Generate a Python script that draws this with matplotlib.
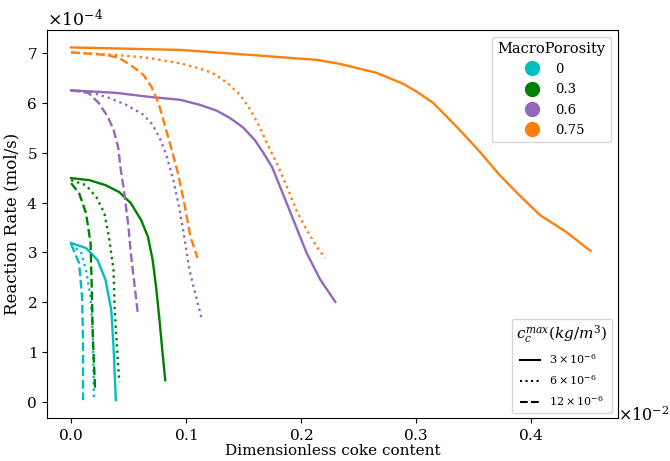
import numpy as np
import matplotlib
matplotlib.use("Agg")
import matplotlib.pyplot as plt
from matplotlib.lines import Line2D

plt.rcParams['font.family'] = 'DejaVu Serif'
plt.rcParams['mathtext.fontset'] = 'dejavuserif'

# x in units of 1e-2, y in units of 1e-4
porosity = ['0', '0.3', '0.6', '0.75']
colors = ['c', 'g', 'tab:purple', 'tab:orange']
cmax_labels = [r'$3\times10^{-6}$', r'$6\times10^{-6}$', r'$12\times10^{-6}$']
styles = ['-', ':', '--']

# porosity 0
x_0_s = [0, 0.013, 0.023, 0.030, 0.035, 0.037, 0.039]
y_0_s = [3.19, 3.09, 2.85, 2.45, 1.85, 1.10, 0.04]
x_0_d = [0, 0.009, 0.013, 0.017, 0.019, 0.020]
y_0_d = [3.17, 2.99, 2.65, 2.11, 1.30, 0.04]
x_0_l = [0, 0.007, 0.0096, 0.0104, 0.0104]
y_0_l = [3.17, 2.79, 2.11, 1.30, 0.04]

# porosity 0.3
x_3_s = [0, 0.016, 0.030, 0.042, 0.052, 0.061, 0.067, 0.071, 0.074, 0.077, 0.080, 0.082]
y_3_s = [4.49, 4.45, 4.35, 4.21, 3.99, 3.65, 3.31, 2.85, 2.31, 1.64, 0.90, 0.44]
x_3_d = [0, 0.013, 0.022, 0.029, 0.033, 0.037, 0.038, 0.040, 0.042]
y_3_d = [4.45, 4.35, 4.11, 3.79, 3.31, 2.65, 1.85, 1.10, 0.40]
x_3_l = [0, 0.007, 0.013, 0.017, 0.018, 0.019, 0.021]
y_3_l = [4.39, 4.19, 3.79, 3.19, 2.31, 1.30, 0.22]

# porosity 0.6
x_6_s = [0, 0.039, 0.068, 0.095, 0.112, 0.127, 0.138, 0.150, 0.160, 0.167,
         0.175, 0.182, 0.189, 0.197, 0.205, 0.217, 0.230]
y_6_s = [6.25, 6.20, 6.12, 6.06, 5.96, 5.84, 5.70, 5.50, 5.25, 5.01,
         4.71, 4.31, 3.91, 3.45, 2.99, 2.45, 2.01]
x_6_d = [0, 0.016, 0.033, 0.048, 0.063, 0.071, 0.078, 0.083, 0.089, 0.094,
         0.098, 0.103, 0.108, 0.114]
y_6_d = [6.25, 6.22, 6.10, 5.96, 5.76, 5.56, 5.25, 4.95, 4.45, 3.91,
         3.39, 2.65, 2.19, 1.64]
x_6_l = [0, 0.015, 0.024, 0.032, 0.037, 0.041, 0.043, 0.046, 0.050, 0.052, 0.058]
y_6_l = [6.25, 6.20, 6.00, 5.72, 5.46, 5.11, 4.71, 4.25, 3.51, 2.99, 1.80]

# porosity 0.75
x_75_s = [0, 0.095, 0.156, 0.214, 0.234, 0.266, 0.289, 0.301, 0.315, 0.327,
          0.338, 0.356, 0.373, 0.390, 0.408, 0.431, 0.452]
y_75_s = [7.11, 7.06, 6.96, 6.86, 6.78, 6.60, 6.38, 6.22, 6.00, 5.72,
          5.46, 5.01, 4.55, 4.15, 3.75, 3.41, 3.03]
x_75_d = [0, 0.039, 0.068, 0.097, 0.110, 0.123, 0.136, 0.147, 0.156, 0.164,
          0.170, 0.179, 0.188, 0.196, 0.205, 0.214, 0.221]
y_75_d = [7.01, 6.96, 6.90, 6.78, 6.70, 6.60, 6.40, 6.16, 5.86, 5.52,
          5.21, 4.79, 4.31, 3.85, 3.45, 3.11, 2.89]
x_75_l = [0, 0.013, 0.030, 0.042, 0.054, 0.063, 0.070, 0.076, 0.081, 0.087,
          0.093, 0.098, 0.104, 0.110]
y_75_l = [7.01, 6.99, 6.96, 6.90, 6.72, 6.56, 6.32, 6.00, 5.60, 5.11,
          4.59, 4.05, 3.31, 2.89]

curves = [
    [(x_0_s, y_0_s), (x_0_d, y_0_d), (x_0_l, y_0_l)],
    [(x_3_s, y_3_s), (x_3_d, y_3_d), (x_3_l, y_3_l)],
    [(x_6_s, y_6_s), (x_6_d, y_6_d), (x_6_l, y_6_l)],
    [(x_75_s, y_75_s), (x_75_d, y_75_d), (x_75_l, y_75_l)],
]

fig, ax = plt.subplots(figsize=(6.7, 4.61), dpi=100)
fig.subplots_adjust(left=0.070, right=0.922, top=0.935, bottom=0.093)

for col, group in zip(colors, curves):
    for ls, (xs, ys) in zip(styles, group):
        ax.plot(np.array(xs) * 1e-2, np.array(ys) * 1e-4, color=col, ls=ls, lw=1.7)

ax.set_xlim(-0.021e-2, 0.4757e-2)
ax.set_ylim(-0.32e-4, 7.46e-4)
ax.ticklabel_format(style='sci', axis='x', scilimits=(-2, -2), useMathText=True)
ax.ticklabel_format(style='sci', axis='y', scilimits=(0, 0), useMathText=True)
ax.yaxis.get_offset_text().set_fontsize(12.5)
ax.xaxis.get_offset_text().set_visible(False)
ax.text(1.0, 0.03, r'$\times10^{-2}$', transform=ax.transAxes,
        ha='left', va='top', fontsize=11.5)
ax.tick_params(labelsize=11)
ax.set_xlabel('Dimensionless coke content', fontsize=11, labelpad=1)
ax.set_ylabel('Reaction Rate (mol/s)', fontsize=12)

h1 = [Line2D([], [], ls='', marker='o', ms=10, color=c) for c in colors]
leg1 = ax.legend(h1, porosity, title='MacroPorosity', loc='upper right',
                 fontsize=9.5, title_fontsize=10.5, labelspacing=0.55)
ax.add_artist(leg1)
h2 = [Line2D([], [], ls=s, color='k', lw=1.5) for s in styles]
ax.legend(h2, cmax_labels, title=r'$c_c^{max}(kg/m^3)$', loc='lower right',
          fontsize=8, title_fontsize=11, handlelength=1.8, labelspacing=0.65)

fig.savefig('out.png', dpi=100)
